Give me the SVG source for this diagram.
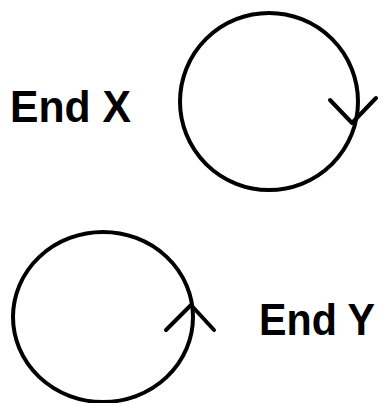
<svg xmlns="http://www.w3.org/2000/svg" width="384" height="403" viewBox="0 0 384 403">
<style>
.c{fill:none;stroke:#000;stroke-width:4}
.a{fill:none;stroke:#000;stroke-width:4;stroke-linecap:round;stroke-linejoin:round}
.t{font-family:"Liberation Sans",Arial,sans-serif;font-weight:bold;font-size:44px;fill:#000}
</style>
<rect width="384" height="403" fill="#fff"/>
<g id="endX">
<text class="t" x="10" y="122" textLength="121" lengthAdjust="spacingAndGlyphs">End X</text>
</g>
<g id="loopX">
<ellipse class="c" cx="269" cy="101.5" rx="89" ry="88.5"/>
</g>
<g id="endY">
<text class="t" x="259" y="335" textLength="116" lengthAdjust="spacingAndGlyphs">End Y</text>
</g>
<g id="loopY">
<ellipse class="c" cx="103" cy="317" rx="90" ry="85"/>
</g>
<g id="connectors">
<polyline class="a" points="330,100 352,123 376,98"/>
<polyline class="a" points="166,330 191,305 214,330"/>
</g>
</svg>
